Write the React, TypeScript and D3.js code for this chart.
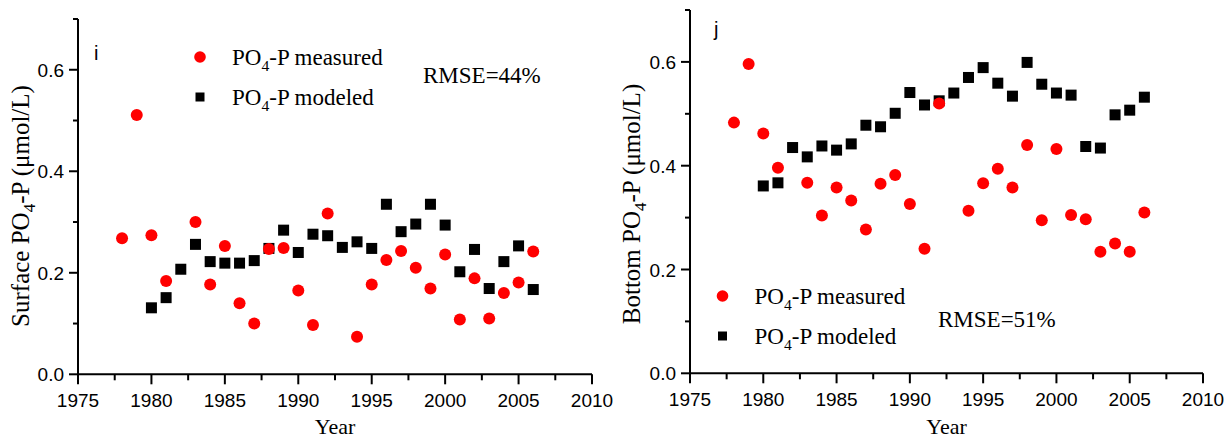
import React from "react";
import * as d3 from "d3";

// Surface panel (i)
const surfMeasYears = [1978,1979,1980,1981,1983,1984,1985,1986,1987,1988,1989,1990,1991,1992,1994,1995,1996,1997,1998,1999,2000,2001,2002,2003,2004,2005,2006];
const surfMeas = [0.268,0.511,0.274,0.184,0.300,0.177,0.253,0.140,0.100,0.247,0.249,0.165,0.097,0.317,0.074,0.177,0.225,0.243,0.210,0.169,0.236,0.108,0.189,0.110,0.160,0.181,0.242];
const surfModYears = [1980,1981,1982,1983,1984,1985,1986,1987,1988,1989,1990,1991,1992,1993,1994,1995,1996,1997,1998,1999,2000,2001,2002,2003,2004,2005,2006];
const surfMod = [0.131,0.151,0.207,0.256,0.222,0.219,0.219,0.224,0.248,0.284,0.240,0.276,0.273,0.250,0.261,0.248,0.335,0.281,0.296,0.335,0.294,0.202,0.246,0.169,0.222,0.253,0.167];
// Bottom panel (j)
const botMeasYears = [1978,1979,1980,1981,1983,1984,1985,1986,1987,1988,1989,1990,1991,1992,1994,1995,1996,1997,1998,1999,2000,2001,2002,2003,2004,2005,2006];
const botMeas = [0.483,0.596,0.462,0.396,0.367,0.304,0.358,0.333,0.277,0.365,0.382,0.326,0.240,0.520,0.313,0.366,0.394,0.358,0.440,0.295,0.432,0.305,0.297,0.234,0.250,0.234,0.310];
const botModYears = [1980,1981,1982,1983,1984,1985,1986,1987,1988,1989,1990,1991,1992,1993,1994,1995,1996,1997,1998,1999,2000,2001,2002,2003,2004,2005,2006];
const botMod = [0.361,0.367,0.435,0.417,0.438,0.430,0.442,0.478,0.475,0.501,0.541,0.517,0.525,0.540,0.570,0.589,0.559,0.534,0.599,0.557,0.540,0.536,0.437,0.434,0.498,0.507,0.532];

const xMajor = [1975, 1980, 1985, 1990, 1995, 2000, 2005, 2010];
const xMinor = [1977.5, 1982.5, 1987.5, 1992.5, 1997.5, 2002.5, 2007.5];
const yMajor = [0.0, 0.2, 0.4, 0.6];
const yMinor = [0.1, 0.3, 0.5, 0.7];

const SANS = "'Liberation Sans', Arial, sans-serif";
const SERIF = "'Liberation Serif', 'Times New Roman', serif";

type PanelProps = {
  x0: number; x1: number; y0: number; y1: number;
  measYears: number[]; meas: number[]; modYears: number[]; mod: number[];
  letter: string; letterPos: [number, number];
  title: string; titleX: number; titleY: number;
  legend: [number, number]; rmse: string; rmsePos: [number, number];
};

function Sub({ pre, post, size }: { pre: string; post: string; size: number }) {
  const d = Math.round(size * 0.25);
  return (
    <>
      <tspan>{pre}</tspan>
      <tspan dy={d} fontSize={size * 0.68}>4</tspan>
      <tspan dy={-d}>{post}</tspan>
    </>
  );
}

function Panel(p: PanelProps) {
  const x = d3.scaleLinear().domain([1975, 2010]).range([p.x0, p.x1]);
  const y = d3.scaleLinear().domain([0, 0.7]).range([p.y0, p.y1]);
  const fs = 23;
  const sq = 11;
  const [lx, ly] = p.legend;
  return (
    <g>
      {/* axes */}
      <line x1={p.x0} x2={p.x1} y1={p.y0} y2={p.y0} stroke="#000" strokeWidth={2} />
      <line x1={p.x0} x2={p.x0} y1={p.y0 + 1} y2={p.y1} stroke="#000" strokeWidth={2} />
      {xMajor.map((v) => (
        <g key={"xm" + v}>
          <line x1={x(v)} x2={x(v)} y1={p.y0} y2={p.y0 + 10} stroke="#000" strokeWidth={2} />
          <text x={x(v)} y={p.y0 + 33} textAnchor="middle" fontFamily={SANS} fontSize={19}>{v}</text>
        </g>
      ))}
      {xMinor.map((v) => (
        <line key={"xn" + v} x1={x(v)} x2={x(v)} y1={p.y0} y2={p.y0 + 6} stroke="#000" strokeWidth={2} />
      ))}
      {yMajor.map((v) => (
        <g key={"ym" + v}>
          <line x1={p.x0} x2={p.x0 - 9} y1={y(v)} y2={y(v)} stroke="#000" strokeWidth={2} />
          <text x={p.x0 - 14} y={y(v) + 7} textAnchor="end" fontFamily={SANS} fontSize={19}>{v.toFixed(1)}</text>
        </g>
      ))}
      {yMinor.map((v) => (
        <line key={"yn" + v} x1={p.x0} x2={p.x0 - 5} y1={y(v)} y2={y(v)} stroke="#000" strokeWidth={2} />
      ))}
      {/* modeled squares */}
      {p.modYears.map((yr, i) => (
        <rect key={"s" + yr} x={x(yr) - sq / 2} y={y(p.mod[i]) - sq / 2} width={sq} height={sq} fill="#000" />
      ))}
      {/* measured circles */}
      {p.measYears.map((yr, i) => (
        <circle key={"c" + yr} cx={x(yr)} cy={y(p.meas[i])} r={6} fill="#ff0000" />
      ))}
      {/* letter */}
      <text x={p.letterPos[0]} y={p.letterPos[1]} fontFamily={SANS} fontSize={20}>{p.letter}</text>
      {/* legend */}
      <circle cx={lx} cy={ly} r={5.8} fill="#ff0000" />
      <text x={lx + 32} y={ly + 8} fontFamily={SERIF} fontSize={fs}>
        <Sub pre="PO" post="-P measured" size={fs} />
      </text>
      <rect x={lx - 4.5} y={ly + 40 - 4.5} width={9} height={9} fill="#000" />
      <text x={lx + 32} y={ly + 48} fontFamily={SERIF} fontSize={fs}>
        <Sub pre="PO" post="-P modeled" size={fs} />
      </text>
      <text x={p.rmsePos[0]} y={p.rmsePos[1]} fontFamily={SERIF} fontSize={fs}>{p.rmse}</text>
      {/* axis titles */}
      <text x={(p.x0 + p.x1) / 2} y={434} textAnchor="middle" fontFamily={SERIF} fontSize={22}>Year</text>
      <text transform={`translate(${p.titleX},${p.titleY}) rotate(-90)`} textAnchor="middle" fontFamily={SERIF} fontSize={25}>
        <Sub pre={p.title + " PO"} post="-P (μmol/L)" size={25} />
      </text>
    </g>
  );
}

export default function App() {
  return (
    <svg width={1225} height={440} style={{ position: "absolute", left: 0, top: 0, background: "#fff" }}>
      <rect width={1225} height={440} fill="#fff" />
      <Panel
        x0={78} x1={592} y0={374.3} y1={19}
        measYears={surfMeasYears} meas={surfMeas} modYears={surfModYears} mod={surfMod}
        letter="i" letterPos={[94, 60]}
        title="Surface" titleX={29} titleY={206}
        legend={[200, 57]} rmse="RMSE=44%" rmsePos={[423, 83]}
      />
      <Panel
        x0={690} x1={1203} y0={373.3} y1={10}
        measYears={botMeasYears} meas={botMeas} modYears={botModYears} mod={botMod}
        letter="j" letterPos={[714, 36]}
        title="Bottom" titleX={640} titleY={204}
        legend={[722.5, 296]} rmse="RMSE=51%" rmsePos={[938, 327]}
      />
    </svg>
  );
}
